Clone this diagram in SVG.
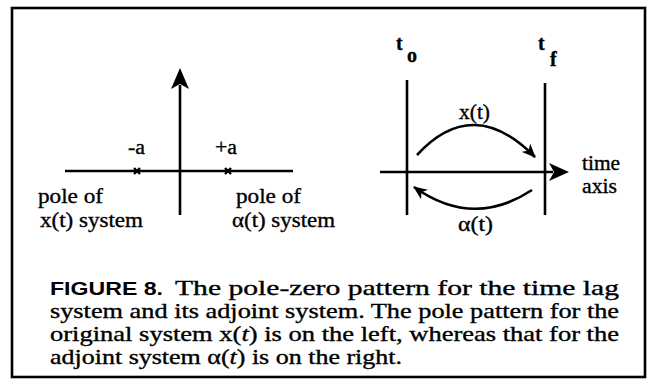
<svg xmlns="http://www.w3.org/2000/svg" width="649" height="388" viewBox="0 0 649 388">
<style>
.ln{stroke:#000;stroke-width:2.6;fill:none;stroke-linecap:butt}
.t{font-family:"Liberation Serif","Times New Roman",serif;font-size:20px;fill:#000;stroke:#000;stroke-width:0.35}
.L{font-family:"Liberation Serif","Times New Roman",serif;font-size:21px;fill:#000;stroke:#000;stroke-width:0.35}
.c{font-family:"Liberation Serif","Times New Roman",serif;font-size:21px;fill:#000;stroke:#000;stroke-width:0.35}
.b{font-family:"Liberation Sans",Arial,sans-serif;font-weight:bold;font-size:19px;fill:#000}
.x{stroke:#000;stroke-width:2.4}
</style>
<defs>
<marker id="ah" viewBox="0 0 14 12" refX="13" refY="6" markerWidth="14" markerHeight="12" markerUnits="userSpaceOnUse" orient="auto">
<path d="M0,0 L14,6 L0,12 L4,6 Z" fill="#000"/>
</marker>
</defs>
<rect x="12" y="8" width="633" height="369" fill="#fff" stroke="#000" stroke-width="2.6"/>

<g id="connectors">
<line class="ln" x1="65" y1="171" x2="293" y2="171"/>
<line class="ln" x1="180" y1="85" x2="180" y2="215"/>
<path d="M180,68 L189,89 L180,84 L171,89 Z" fill="#000"/>
<line class="ln" x1="380" y1="172" x2="553" y2="172"/>
<path d="M569,172 L549,163 L554,172 L549,181 Z" fill="#000"/>
<line class="ln" x1="407" y1="80" x2="407" y2="215"/>
<line class="ln" x1="545" y1="83" x2="545" y2="215"/>
<path class="ln" d="M417,155 Q473,94 535,157" marker-end="url(#ah)"/>
<path class="ln" d="M532,190 Q473,229 414,187" marker-end="url(#ah)"/>
</g>

<g id="pole-minus-a">
<path class="x" d="M134,168 L140,174 M140,168 L134,174"/>
<text class="t" x="128" y="154" textLength="17" lengthAdjust="spacingAndGlyphs">-a</text>
</g>
<g id="pole-plus-a">
<path class="x" d="M225,168 L231,174 M231,168 L225,174"/>
<text class="t" x="215" y="154" textLength="22" lengthAdjust="spacingAndGlyphs">+a</text>
</g>
<g id="label-left">
<text class="L" x="38" y="203" textLength="65" lengthAdjust="spacingAndGlyphs">pole of</text>
<text class="L" x="40" y="227" textLength="103" lengthAdjust="spacingAndGlyphs">x(t) system</text>
</g>
<g id="label-right">
<text class="L" x="236" y="203" textLength="65" lengthAdjust="spacingAndGlyphs">pole of</text>
<text class="L" x="232" y="227" textLength="103" lengthAdjust="spacingAndGlyphs">α(t) system</text>
</g>
<g id="t0">
<text class="t" font-weight="bold" x="396" y="50">t</text>
<text class="t" font-weight="bold" font-size="16" x="407" y="62">o</text>
</g>
<g id="tf">
<text class="t" font-weight="bold" x="538" y="50">t</text>
<text class="t" font-weight="bold" font-size="16" x="550" y="66">f</text>
</g>
<g id="xt"><text class="t" x="459" y="119" textLength="31" lengthAdjust="spacingAndGlyphs">x(t)</text></g>
<g id="at"><text class="t" x="458" y="231" textLength="35" lengthAdjust="spacingAndGlyphs">α(t)</text></g>
<g id="time-axis">
<text class="t" x="582" y="170" textLength="38" lengthAdjust="spacingAndGlyphs">time</text>
<text class="t" x="582" y="193" textLength="35" lengthAdjust="spacingAndGlyphs">axis</text>
</g>

<g id="caption">
<text x="50" y="295" class="b" textLength="113" lengthAdjust="spacingAndGlyphs">FIGURE 8.</text>
<text x="175" y="295" class="c" textLength="444" lengthAdjust="spacingAndGlyphs">The pole-zero pattern for the time lag</text>
<text x="50" y="318" class="c" textLength="569" lengthAdjust="spacingAndGlyphs">system and its adjoint system. The pole pattern for the</text>
<text x="50" y="341" class="c" textLength="569" lengthAdjust="spacingAndGlyphs">original system x(<tspan font-style="italic">t</tspan>) is on the left, whereas that for the</text>
<text x="50" y="364" class="c" textLength="352" lengthAdjust="spacingAndGlyphs">adjoint system α(<tspan font-style="italic">t</tspan>) is on the right.</text>
</g>
</svg>
